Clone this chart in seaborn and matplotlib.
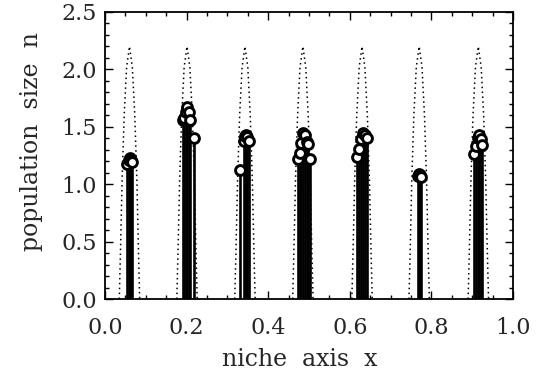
import numpy as np
import pandas as pd
import matplotlib
matplotlib.use("Agg")
import matplotlib.pyplot as plt
import seaborn as sns

# ---- data ----
hump_centers = [0.060, 0.201, 0.343, 0.485, 0.630, 0.770, 0.915]
hump_offsets = [-0.025, -0.022, -0.018, -0.013, -0.007, 0.0, 0.007, 0.013, 0.018, 0.022, 0.025]
hump_values = [0.0, 0.42, 1.05, 1.60, 2.02, 2.20, 2.02, 1.60, 1.05, 0.42, 0.0]

stem_x = [0.055, 0.058, 0.061, 0.064, 0.067,
          0.190, 0.194, 0.198, 0.201, 0.205, 0.209, 0.218,
          0.331, 0.340, 0.343, 0.346, 0.349, 0.352,
          0.473, 0.477, 0.481, 0.485, 0.489, 0.494, 0.498, 0.502,
          0.618, 0.622, 0.627, 0.632, 0.637, 0.642,
          0.766, 0.769, 0.772, 0.775,
          0.905, 0.909, 0.913, 0.917, 0.921, 0.925]
stem_n = [1.18, 1.21, 1.23, 1.21, 1.19,
          1.56, 1.58, 1.63, 1.67, 1.63, 1.56, 1.40,
          1.12, 1.38, 1.42, 1.43, 1.41, 1.38,
          1.22, 1.27, 1.36, 1.45, 1.43, 1.37, 1.35, 1.22,
          1.24, 1.31, 1.39, 1.45, 1.43, 1.40,
          1.07, 1.09, 1.08, 1.06,
          1.26, 1.33, 1.40, 1.43, 1.39, 1.34]

x_ticks = [0.0, 0.2, 0.4, 0.6, 0.8, 1.0]
x_ticklabels = ["0.0", "0.2", "0.4", "0.6", "0.8", "1.0"]
y_ticks = [0.0, 0.5, 1.0, 1.5, 2.0, 2.5]
y_ticklabels = ["0.0", "0.5", "1.0", "1.5", "2.0", "2.5"]
x_title = "niche  axis  x"
y_title = "population  size  n"

# ---- build tables ----
rows = []
for h, c in enumerate(hump_centers):
    for d, v in zip(hump_offsets, hump_values):
        rows.append({"hump": h, "x": c + d, "K": v})
curve = pd.DataFrame(rows)
pops = pd.DataFrame({"x": stem_x, "n": stem_n})

sns.set_theme(style="ticks")
plt.rcParams["font.family"] = ["DejaVu Serif"]

fig = plt.figure(figsize=(5.41, 3.71), dpi=100)
ax = fig.add_axes([105 / 541, 1 - 299 / 371, 408 / 541, 287 / 371])

sns.lineplot(data=curve, x="x", y="K", units="hump", estimator=None,
             color="black", lw=1.1, dashes=False, ax=ax, legend=False)
for line in ax.get_lines():
    line.set_dashes((1, 2.2))

ax.vlines(pops["x"], 0, pops["n"], color="black", lw=1.9, zorder=3)
sns.scatterplot(data=pops, x="x", y="n", marker="o", s=50,
                facecolor="white", edgecolor="black", linewidth=2.1,
                zorder=4, ax=ax, legend=False)

ax.set_xlim(0, 1)
ax.set_ylim(0, 2.5)
ax.set_xticks(x_ticks)
ax.set_xticklabels(x_ticklabels)
ax.set_yticks(y_ticks)
ax.set_yticklabels(y_ticklabels)
ax.set_xticks(np.arange(0, 1.0001, 0.05), minor=True)
ax.set_yticks(np.arange(0, 2.5001, 0.1), minor=True)
ax.tick_params(which="both", direction="in", top=True, right=True,
               color="black", width=1.0)
ax.tick_params(which="major", length=6)
ax.tick_params(which="minor", length=3)
ax.tick_params(axis="x", which="major", pad=13, labelsize=16)
ax.tick_params(axis="y", which="major", pad=6, labelsize=16)
for s in ax.spines.values():
    s.set_visible(True)
    s.set_color("black")
    s.set_linewidth(1.3)

ax.set_xlabel(x_title, fontsize=17)
ax.set_ylabel(y_title, fontsize=17)
ax.xaxis.set_label_coords(0.478, -0.171)
ax.yaxis.set_label_coords(-0.152, 0.55)

fig.savefig("out.png", dpi=100)
